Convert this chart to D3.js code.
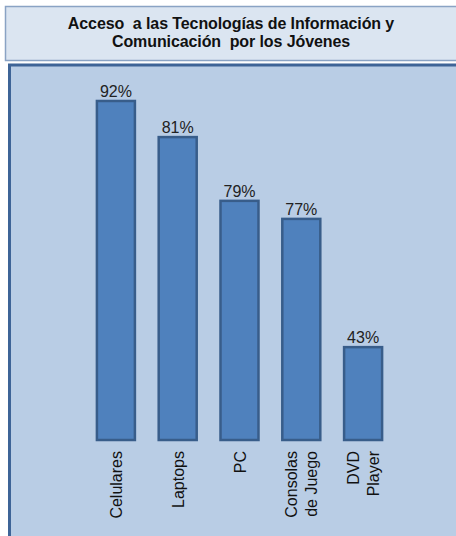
<!DOCTYPE html>
<html>
<head>
<meta charset="utf-8">
<script src="https://cdn.jsdelivr.net/npm/d3@7"></script>
<style>
  body { margin: 0; background: #fff; }
  svg { display: block; font-family: Arial, "Liberation Sans", sans-serif; }
</style>
</head>
<body>
<div id="chart"></div>
<script>
var categories = [["Celulares"], ["Laptops"], ["PC"], ["Consolas", "de Juego"], ["DVD", "Player"]];
var labels = [92, 81, 79, 77, 43];
// bar heights as drawn in the picture (same scale as the 92% bar)
var drawn = [92, 82.2, 64.9, 60, 25.2];
var title = ["Acceso  a las Tecnologías de Información y", "Comunicación  por los Jóvenes"];

var width = 456, height = 536;

var svg = d3.select("#chart").append("svg")
  .attr("width", width)
  .attr("height", height);

// title box
svg.append("rect")
  .attr("x", 5.5).attr("y", 6.5)
  .attr("width", 460).attr("height", 54)
  .attr("fill", "#dbe5f1")
  .attr("stroke", "#8aa3c4")
  .attr("stroke-width", 1.5);

svg.append("g").selectAll("text")
  .data(title)
  .enter().append("text")
  .attr("x", 231)
  .attr("y", (d, i) => 29 + i * 18)
  .attr("text-anchor", "middle")
  .attr("font-size", 16)
  .attr("font-weight", "bold")
  .attr("fill", "#111")
  .attr("letter-spacing", "-0.1")
  .attr("xml:space", "preserve")
  .style("white-space", "pre")
  .text(d => d);

// plot panel
svg.append("rect")
  .attr("x", 9.5).attr("y", 65)
  .attr("width", 460).attr("height", 490)
  .attr("fill", "#b9cde5")
  .attr("stroke", "#3e6497")
  .attr("stroke-width", 3);

var x = d3.scaleBand()
  .domain(d3.range(categories.length))
  .range([85, 394])
  .paddingInner(0.385)
  .paddingOuter(0.1925);

var y = d3.scaleLinear().domain([0, 100]).range([440, 71.5]);

var bars = svg.append("g").selectAll("g")
  .data(drawn)
  .enter().append("g");

bars.append("rect")
  .attr("x", (d, i) => x(i))
  .attr("y", d => y(d))
  .attr("width", x.bandwidth())
  .attr("height", d => y(0) - y(d))
  .attr("fill", "#4f81bd")
  .attr("stroke", "#385d8a")
  .attr("stroke-width", 2.5);

bars.append("text")
  .attr("x", (d, i) => x(i) + x.bandwidth() / 2)
  .attr("y", d => y(d) - 4)
  .attr("text-anchor", "middle")
  .attr("font-size", 16)
  .attr("fill", "#222")
  .text((d, i) => labels[i] + "%");

// rotated category labels
var cat = svg.append("g").selectAll("g")
  .data(categories)
  .enter().append("g")
  .attr("transform", (d, i) => "translate(" + (x(i) + x.bandwidth() / 2) + ",451) rotate(-90)");

cat.selectAll("text")
  .data(d => d.map((t, j) => ({t: t, j: j, n: d.length})))
  .enter().append("text")
  .attr("x", 0)
  .attr("y", d => (d.j - (d.n - 1) / 2) * 20 + 6)
  .attr("text-anchor", "end")
  .attr("font-size", 16)
  .attr("fill", "#111")
  .text(d => d.t);
</script>
</body>
</html>
